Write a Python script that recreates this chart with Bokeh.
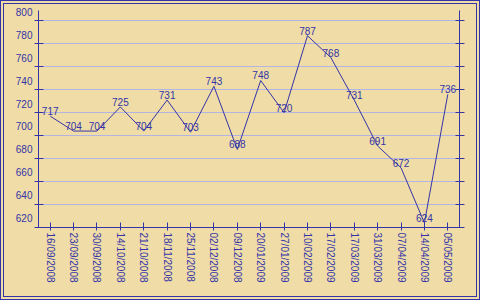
from bokeh.plotting import figure
from bokeh.models import FactorRange, Range1d, FixedTicker, LinearAxis, Arrow, ColumnDataSource
from bokeh.transform import dodge
from bokeh.layouts import column
from bokeh.embed import file_html
from bokeh.resources import INLINE

dates = ["16/09/2008", "23/09/2008", "30/09/2008", "14/10/2008", "21/10/2008",
         "18/11/2008", "25/11/2008", "02/12/2008", "09/12/2008", "20/01/2009",
         "27/01/2009", "10/02/2009", "17/02/2009", "17/03/2009", "31/03/2009",
         "07/04/2009", "14/04/2009", "05/05/2009"]
values = [717, 704, 704, 725, 704, 731, 703, 743, 688, 748,
          720, 787, 768, 731, 691, 672, 624, 736]
y_ticks = [620, 640, 660, 680, 700, 720, 740, 760, 780, 800]

BLUE = "#3434a8"
FONT = "Liberation Sans"
FS = "10px"
BG = "#efdca6"
LABEL_SHIFT = 8  # tick labels sit above their ticks, as in the reference

src = ColumnDataSource(dict(x=dates, y=values, t=[str(v) for v in values]))

p = figure(width=472, height=292, output_backend="svg", toolbar_location=None,
           x_range=FactorRange(*dates, range_padding=0),
           y_range=Range1d(620, 809),
           min_border_left=34, min_border_right=17, min_border_top=6, min_border_bottom=69,
           background_fill_color=BG, border_fill_color=BG, outline_line_color=None)

# grid
p.xgrid.grid_line_color = None
p.ygrid.grid_line_color = "#b2b4e4"
p.ygrid.grid_line_width = 1
p.ygrid.ticker = FixedTicker(ticks=y_ticks)

# left axis: tick marks as minor ticks, labels on shifted major ticks
ya = p.yaxis[0]
ya.ticker = FixedTicker(ticks=[t + LABEL_SHIFT for t in y_ticks], minor_ticks=y_ticks)
ya.major_label_overrides = {t + LABEL_SHIFT: str(t) for t in y_ticks}
ya.axis_line_color = BLUE
ya.major_tick_line_color = None
ya.major_tick_in = 0
ya.major_tick_out = 4
ya.minor_tick_line_color = BLUE
ya.minor_tick_in = 5
ya.minor_tick_out = 4
ya.major_label_standoff = 2
ya.major_label_text_color = BLUE
ya.major_label_text_font = FONT
ya.major_label_text_font_size = FS

# right axis (ticks only)
ra = LinearAxis(ticker=FixedTicker(ticks=[], minor_ticks=y_ticks), axis_line_color=BLUE,
                major_tick_line_color=None, minor_tick_line_color=BLUE,
                minor_tick_in=4, minor_tick_out=5)
p.add_layout(ra, "right")

# bottom axis
xa = p.xaxis[0]
xa.axis_line_color = BLUE
xa.major_tick_line_color = BLUE
xa.major_tick_in = 5
xa.major_tick_out = 3
xa.major_label_orientation = "vertical"
xa.major_label_standoff = 2
xa.major_label_text_color = BLUE
xa.major_label_text_font = FONT
xa.major_label_text_font_size = FS

# axis overhangs
for xs, ys, xe, ye in [(0, 620, -0.43, 620), (18, 620, 18.47, 620),
                       (0, 620, 0, 611.3), (18, 620, 18, 611.3)]:
    p.add_layout(Arrow(x_start=xs, y_start=ys, x_end=xe, y_end=ye, end=None, start=None,
                       line_color=BLUE, line_width=1))

p.line("x", "y", source=src, line_color=BLUE, line_width=1)
p.text("x", dodge("y", 4.4, range=p.y_range), text="t", source=src, text_color=BLUE,
       text_font_size=FS, text_font={"value": FONT}, text_align="center",
       text_baseline="alphabetic")

lay = column(p, styles={"border": "4px double " + BLUE, "background-color": BG})

open("out.html", "w").write(file_html(lay, INLINE))
